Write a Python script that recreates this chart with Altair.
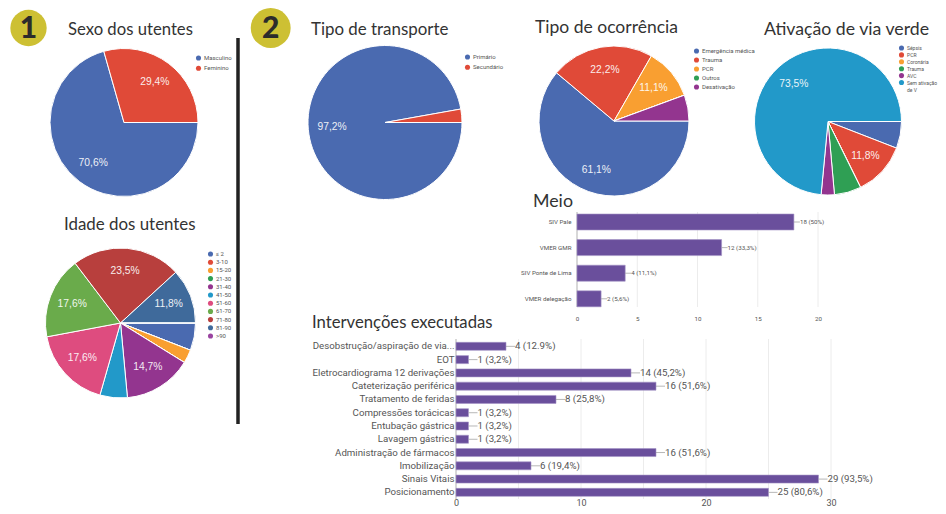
import math
import altair as alt
import pandas as pd

O = 8  # page margin: page coordinates minus this give chart coordinates
W, H = 930, 498

BLUE, RED, ORANGE, GREEN, PURPLE, TEAL = "#4a6ab0", "#e04a38", "#f99f31", "#2f9f54", "#93358f", "#2299c9"
PINK, LIME, DRED, STEEL, VIOLET = "#de4c7f", "#6aab4b", "#b83f3d", "#3f6a9b", "#9a44a0"
BAR = "#6a4f9c"

sexo_cats = ["Masculino", "Feminino"]
sexo_vals = [70.6, 29.4]
idade_cats = ["≤ 2", "3-10", "15-20", "21-30", "31-40", "41-50", "51-60", "61-70", "71-80", "81-90", ">90"]
idade_vals = [5.9, 0, 2.9, 0, 14.7, 5.9, 17.6, 17.6, 23.5, 11.8, 0]
transp_cats = ["Primário", "Secundário"]
transp_vals = [97.2, 2.8]
ocorr_cats = ["Emergência médica", "Trauma", "PCR", "Outros", "Desativação"]
ocorr_vals = [61.1, 22.2, 11.1, 0, 5.6]
verde_cats = ["Sépsis", "PCR", "Coronária", "Trauma", "AVC", "Sem ativação de V"]
verde_vals = [5.9, 11.8, 0, 5.9, 2.9, 73.5]

meio_cats = ["SIV Pale", "VMER GMR", "SIV Ponte de Lima", "VMER delegação"]
meio_vals = [18, 12, 4, 2]
meio_text = ["18 (50%)", "12 (33,3%)", "4 (11,1%)", "2 (5,6%)"]
meio_ticks = [0, 5, 10, 15, 20]

interv_cats = ["Desobstrução/aspiração de via...", "EOT", "Eletrocardiograma 12 derivações",
               "Cateterização periférica", "Tratamento de feridas", "Compressões torácicas",
               "Entubação gástrica", "Lavagem gástrica", "Administração de fármacos",
               "Imobilização", "Sinais Vitais", "Posicionamento"]
interv_vals = [4, 1, 14, 16, 8, 1, 1, 1, 16, 6, 29, 25]
interv_text = ["4 (12.9%)", "1 (3,2%)", "14 (45,2%)", "16 (51,6%)", "8 (25,8%)", "1 (3,2%)",
               "1 (3,2%)", "1 (3,2%)", "16 (51,6%)", "6 (19,4%)", "29 (93,5%)", "25 (80,6%)"]
interv_grid = [0, 5, 10, 15, 20, 25, 30]
interv_labels = [0, 10, 20, 30]


def pie(cats, vals, colors, cx, cy, r, lx, ly, rowpad, limit, lfont=6, lexpr=None):
    df = pd.DataFrame({
        "c": cats, "v": vals, "i": range(len(cats)),
        "t": [f"{v:.1f}%".replace(".", ",") if v >= 10 else "" for v in vals],
    })
    theta = alt.Theta("v:Q", stack=True, scale=alt.Scale(
        domain=[0, sum(vals)], range=[math.pi / 2, math.pi / 2 + 2 * math.pi]))
    opts = dict(
        orient="none", legendX=lx - O, legendY=ly - O, title=None, padding=0,
        symbolType="circle", symbolSize=26, symbolStrokeWidth=0, symbolOffset=0,
        labelFont="Roboto", labelFontSize=lfont, labelColor="#555", labelOffset=2.5,
        labelLimit=limit, rowPadding=rowpad)
    if lexpr:
        opts["labelExpr"] = lexpr
    arc = alt.Chart(df).mark_arc(radius=r, stroke="white", strokeWidth=1).encode(
        x=alt.value(cx - O), y=alt.value(cy - O), theta=theta, order=alt.Order("i:Q"),
        color=alt.Color("c:N", scale=alt.Scale(domain=cats, range=colors), legend=alt.Legend(**opts)))
    txt = alt.Chart(df).mark_text(radius=r * 0.69, font="Liberation Sans", fontSize=10.3,
                                  color="white", opacity=0.9).encode(
        x=alt.value(cx - O), y=alt.value(cy - O), theta=theta, order=alt.Order("i:Q"),
        detail="c:N", text="t:N")
    return [arc, txt]


def hbars(cats, vals, texts, grid, labels, x0, x1, dmax, top, bottom, ptop, pbot, bh,
          font, dx, stem, lpad, ypad, tfont):
    df = pd.DataFrame({"c": cats, "v": vals, "t": texts})
    xs = alt.Scale(domain=[0, dmax], range=[x0 - O, x1 - O], nice=False)
    n = len(cats)
    step = (bottom - top) / n
    pi = 1 - bh / step
    ys = alt.Scale(domain=cats, range=[top - O, bottom - O], paddingInner=pi, paddingOuter=pi / 2)
    g = alt.Chart(pd.DataFrame({"x": grid})).mark_rule(color="#ececec", strokeWidth=1).encode(
        x=alt.X("x:Q", scale=xs, axis=None), y=alt.value(ptop - O), y2=alt.value(pbot - O))
    base = alt.Chart(pd.DataFrame({"x": [0]})).mark_rule(color="#bbbbbb", strokeWidth=1).encode(
        x=alt.X("x:Q", scale=xs, axis=None), y=alt.value(ptop - O), y2=alt.value(pbot - O))
    b = alt.Chart(df).mark_bar(color=BAR, height=bh, stroke="#a493c6", strokeWidth=0.6).encode(
        x=alt.X("v:Q", scale=xs, axis=alt.Axis(
            values=labels, title=None, grid=False, domain=False, ticks=False, orient="bottom",
            offset=(pbot - O) - H, labelFont="Roboto", labelFontSize=tfont, labelColor="#555",
            labelPadding=lpad, labelFlush=False, labelOverlap=False, format="d")),
        y=alt.Y("c:N", scale=ys, axis=alt.Axis(
            title=None, grid=False, domain=False, ticks=False, orient="left",
            offset=-(x0 - O), labelFont="Roboto", labelFontSize=font, labelColor="#555",
            labelPadding=ypad, labelLimit=300)))
    s = alt.Chart(df).mark_tick(orient="horizontal", size=stem, xOffset=stem / 2, thickness=1,
                                color="#999999").encode(
        x=alt.X("v:Q", scale=xs, axis=None), y=alt.Y("c:N", scale=ys, axis=None))
    t = alt.Chart(df).mark_text(align="left", dx=dx, font="Roboto", fontSize=font,
                                color="#555").encode(
        x=alt.X("v:Q", scale=xs, axis=None), y=alt.Y("c:N", scale=ys, axis=None), text="t:N")
    return [g, base, b, s, t]


def title(text, x, y, size):
    return alt.Chart(pd.DataFrame({"t": [text]})).mark_text(
        align="left", baseline="alphabetic", font="Lato", fontSize=size, color="#333333").encode(
        x=alt.value(x - O), y=alt.value(y - O), text="t:N")


def badge(label, cx, cy, r):
    c = alt.Chart(pd.DataFrame({"t": [label]})).mark_circle(
        color="#cdc033", opacity=1, size=math.pi * r * r).encode(
        x=alt.value(cx - O), y=alt.value(cy - O))
    t = alt.Chart(pd.DataFrame({"t": [label]})).mark_text(
        font="Lato", fontWeight=900, fontSize=30, color="#2b2b2b", baseline="middle").encode(
        x=alt.value(cx - O), y=alt.value(cy - O + 1), text="t:N")
    return [c, t]


layers = []
layers += pie(sexo_cats, sexo_vals, [BLUE, RED], 124, 122.5, 74, 195.5, 55, 4.2, 60)
layers += pie(idade_cats, idade_vals,
              [BLUE, RED, ORANGE, GREEN, PURPLE, TEAL, PINK, LIME, DRED, STEEL, VIOLET],
              120.5, 323, 75, 207.5, 251, 2.2, 40)
layers += pie(transp_cats, transp_vals, [BLUE, RED], 385, 122.5, 77, 464.5, 54, 4.2, 60)
layers += pie(ocorr_cats, ocorr_vals, [BLUE, RED, ORANGE, GREEN, PURPLE], 614, 121, 75, 693.5, 48, 3, 60)
layers += pie(verde_cats, verde_vals, [BLUE, RED, ORANGE, GREEN, PURPLE, TEAL], 828, 121.5, 73.5,
              898.5, 45, 0.9, 34, 5,
              "datum.label == 'Sem ativação de V' ? ['Sem ativação', 'de V'] : datum.label")

layers += hbars(meio_cats, meio_vals, meio_text, meio_ticks, meio_ticks, 577, 818, 20,
                209.2, 311.6, 212, 307, 16, 6.2, 6, 6, 8, 6, 6.2)
layers += hbars(interv_cats, interv_vals, interv_text, interv_grid, interv_labels, 456, 831, 30,
                339.7, 499, 339, 499, 8, 9.7, 9, 9, -1, 2, 9)

for t, x, y, s in [("Sexo dos utentes", 68, 35, 16.7), ("Idade dos utentes", 64, 230, 16.9),
                   ("Tipo de transporte", 311, 35, 16.9), ("Tipo de ocorrência", 535, 33, 17.5),
                   ("Ativação de via verde", 764, 35, 17.7), ("Meio", 533, 207, 17.8),
                   ("Intervenções executadas", 312, 328, 16.7)]:
    layers.append(title(t, x, y, s))

layers += badge("1", 28.5, 28, 20.5)
layers += badge("2", 270.7, 28, 22.5)

layers.append(alt.Chart(pd.DataFrame({"k": [0]})).mark_rule(color="#222222", strokeWidth=3.5).encode(
    x=alt.value(238 - O), y=alt.value(38 - O), y2=alt.value(424 - O)))

chart = alt.layer(*layers).resolve_scale(
    x="independent", y="independent", color="independent", theta="independent"
).resolve_axis(x="independent", y="independent").properties(
    width=W, height=H, padding=0, background="white",
    autosize=alt.AutoSizeParams(type="none"),
).configure_view(stroke=None)

chart.save("out.html", embed_options={"renderer": "svg", "actions": False})
